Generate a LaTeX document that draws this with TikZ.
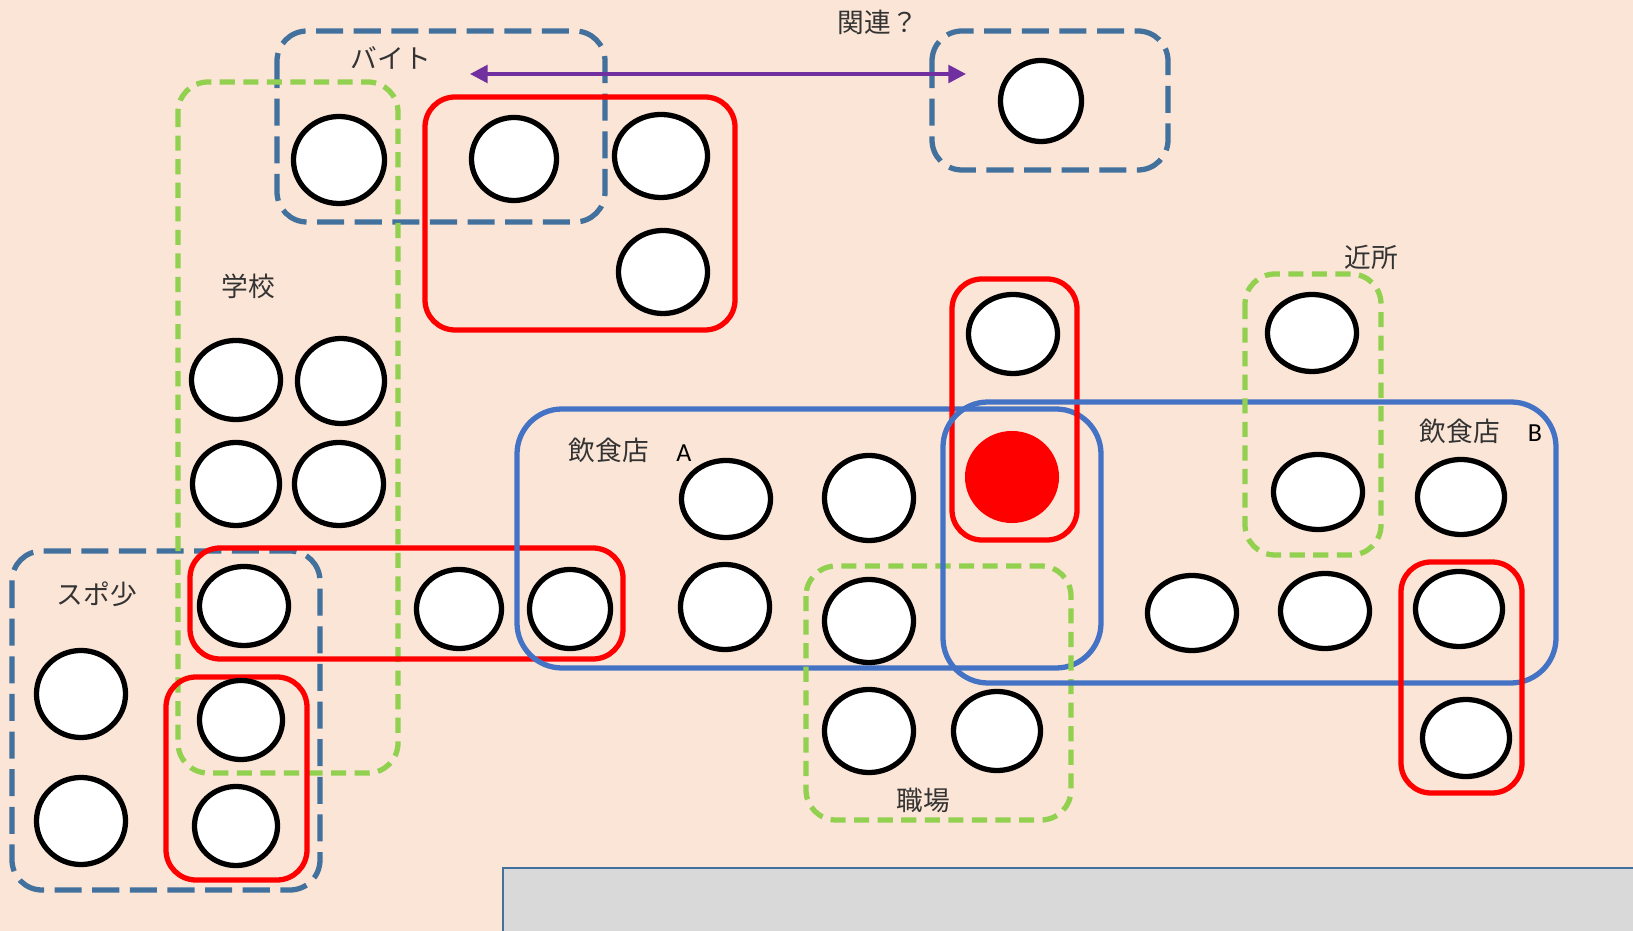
\documentclass[tikz,border=0pt]{standalone}
\usepackage{fontspec}
\setmainfont{Carlito}
\newfontfamily\jp{Noto Sans CJK JP}
\usetikzlibrary{arrows.meta, shapes.geometric}
\definecolor{peach}{HTML}{FBE5D6}
\definecolor{dashblue}{HTML}{41719C}
\definecolor{shopblue}{HTML}{4472C4}
\definecolor{leaf}{HTML}{92D050}
\definecolor{plum}{HTML}{7030A0}
\definecolor{panel}{HTML}{D9D9D9}

\begin{document}
\begin{tikzpicture}[x=0.01cm, y=-0.01cm,
		seat/.style 2 args={ellipse, draw=black, fill=white, line width=1.5pt, inner sep=0pt, minimum width=#1cm, minimum height=#2cm},
		dashgrp/.style={draw=dashblue, line width=1.5pt, rounded corners=0.3cm, dash pattern=on 7.7pt off 3pt},
		greengrp/.style={draw=leaf, line width=1.5pt, rounded corners=0.3cm, dash pattern=on 4.3pt off 2.4pt},
		redgrp/.style={draw=red, line width=1.5pt, rounded corners=0.3cm},
		shopgrp/.style={draw=shopblue, line width=1.5pt, rounded corners=0.45cm},
		jlbl/.style={font=\jp\fontsize{7.6}{9}\selectfont, text=black!80, inner sep=0pt},
		elbl/.style={font=\fontsize{7.4}{9}\selectfont, inner sep=0pt}]
		\useasboundingbox[fill=peach] (0,0) rectangle (1633,931);

		% panel at the bottom
		\fill[panel] (503,868) rectangle (1633,931);
		\draw[dashblue, line width=0.6pt] (503,931) -- (503,868) -- (1633,868);

		% groups
		\draw[dashgrp] (277,31) rectangle (605,222);
		\draw[dashgrp] (932,31) rectangle (1168,170);
		\draw[dashgrp] (12,551) rectangle (320,890);
		\draw[greengrp] (178,82) rectangle (398,773);
		\draw[redgrp] (425,97) rectangle (735,330);
		\draw[redgrp] (190,548) rectangle (623,659);
		\draw[redgrp] (166,677) rectangle (307,880);
		\draw[shopgrp] (517,409) rectangle (1101,668);
		\draw[greengrp] (806,566) rectangle (1071,820);
		\draw[redgrp] (952,279) rectangle (1077,540);
		\draw[shopgrp] (943,402) rectangle (1556,683);
		\draw[greengrp] (1245,274) rectangle (1381,555);
		\draw[redgrp] (1401,562) rectangle (1522,793);

		% people
		\node[seat={.91}{.87}] (b1) at (339,160) {};
		\node[seat={.85}{.83}] (r1) at (514,159) {};
		\node[seat={.93}{.83}] (r2) at (661,156) {};
		\node[seat={.89}{.83}] (r3) at (663,272) {};
		\node[seat={.81}{.81}] (q1) at (1041,101) {};
		\node[seat={.89}{.79}] (s1) at (236,380) {};
		\node[seat={.87}{.85}] (s2) at (341,381) {};
		\node[seat={.87}{.83}] (s3) at (236,484) {};
		\node[seat={.89}{.83}] (s4) at (339,484) {};
		\node[seat={.89}{.79}] (s5) at (244,606) {};
		\node[seat={.83}{.79}] (s6) at (241,720) {};
		\node[seat={.83}{.79}] (s7) at (236,826) {};
		\node[seat={.89}{.87}] (k1) at (81,694) {};
		\node[seat={.89}{.87}] (k2) at (81,821) {};
		\node[seat={.85}{.79}] (w1) at (459,609) {};
		\node[seat={.81}{.79}] (w2) at (570,609) {};
		\node[seat={.89}{.77}] (a1) at (726,499) {};
		\node[seat={.89}{.85}] (a2) at (869,498) {};
		\node[seat={.89}{.85}] (a3) at (725,607) {};
		\node[seat={.89}{.83}] (a4) at (869,621) {};
		\node[seat={.89}{.83}] (j1) at (869,731) {};
		\node[seat={.87}{.79}] (j2) at (997,731) {};
		\node[seat={.89}{.79}] (t1) at (1013,334) {};
		\node[ellipse, fill=red, inner sep=0pt, minimum width=.94cm, minimum height=.92cm] (me) at (1012,477) {};
		\node[seat={.89}{.77}] (n1) at (1312,333) {};
		\node[seat={.89}{.75}] (n2) at (1318,492) {};
		\node[seat={.87}{.75}] (e1) at (1461,497) {};
		\node[seat={.89}{.75}] (e2) at (1192,613) {};
		\node[seat={.89}{.75}] (e3) at (1325,611) {};
		\node[seat={.87}{.75}] (e4) at (1459,609) {};
		\node[seat={.87}{.77}] (e5) at (1466,738) {};

		% link between the two groups
		\coordinate (relL) at (470,74);
		\coordinate (relR) at (966,74);
		\draw[plum, line width=1pt, {Triangle[length=5pt, width=5pt]}-{Triangle[length=5pt, width=5pt]}] (relL) -- (relR);

		% labels
		\node[jlbl] (baito) at (391,58) {バイト};
		\node[jlbl] (kanren) at (878,22) {関連？};
		\node[jlbl] (gakko) at (248,286) {学校};
		\node[jlbl] (sports) at (97,594) {スポ少};
		\node[jlbl] (shopA) at (609,450) {飲食店};
		\node[elbl] (tagA) at (684,453) {A};
		\node[jlbl] (kinjo) at (1371,257) {近所};
		\node[jlbl] (shopB) at (1460,431) {飲食店};
		\node[elbl] (tagB) at (1535,433) {B};
		\node[jlbl] (shokuba) at (923,800) {職場};
\end{tikzpicture}
\end{document}
